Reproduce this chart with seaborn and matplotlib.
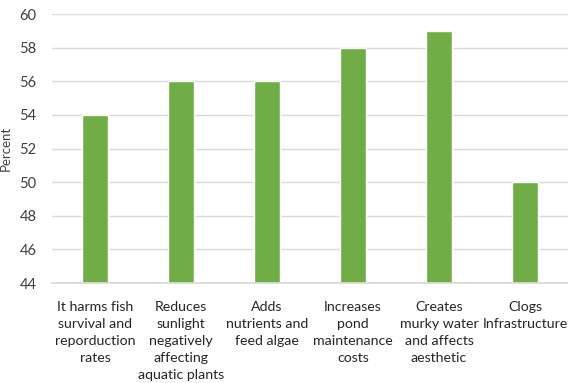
import matplotlib
matplotlib.use("Agg")
import matplotlib.pyplot as plt
import seaborn as sns
import pandas as pd

categories = [
    "It harms fish\nsurvival and\nreporduction\nrates",
    "Reduces\nsunlight\nnegatively\naffecting\naquatic plants",
    "Adds\nnutrients and\nfeed algae",
    "Increases\npond\nmaintenance\ncosts",
    "Creates\nmurky water\nand affects\naesthetic",
    "Clogs\nInfrastructure",
]
percent = [54, 56, 56, 58, 59, 50]
y_ticks = [44, 46, 48, 50, 52, 54, 56, 58, 60]

sns.set_theme(style="white")
plt.rcParams["font.family"] = ["Lato", "DejaVu Sans"]

df = pd.DataFrame({"category": categories, "percent": percent})

fig = plt.figure(figsize=(5.68, 3.83), dpi=100)
ax = fig.add_axes([0.0915, 0.261, 0.9085, 0.7024])

sns.barplot(data=df, x="category", y="percent", color="#70ad47",
            saturation=1, width=0.31, ax=ax, zorder=3)

ax.set_ylim(44, 60)
ax.set_yticks(y_ticks)
ax.yaxis.grid(True, color="#d9d9d9", linewidth=1, zorder=0)
ax.set_axisbelow(True)
for side in ["left", "right", "top"]:
    ax.spines[side].set_visible(False)
ax.spines["bottom"].set_color("#d9d9d9")
ax.spines["bottom"].set_zorder(4)

ax.tick_params(axis="y", length=0, pad=11, labelsize=10.5, labelcolor="#404040")
ax.tick_params(axis="x", length=0, pad=13, labelsize=10.2, labelcolor="#262626")
for lbl in ax.get_xticklabels():
    lbl.set_linespacing(1.5)
    lbl.set_verticalalignment("top")

ax.set_xlabel("")
ax.set_ylabel("Percent", fontsize=9.5, color="#404040")
ax.yaxis.set_label_coords(-0.078, 0.5)

fig.savefig("out.png", dpi=100)
